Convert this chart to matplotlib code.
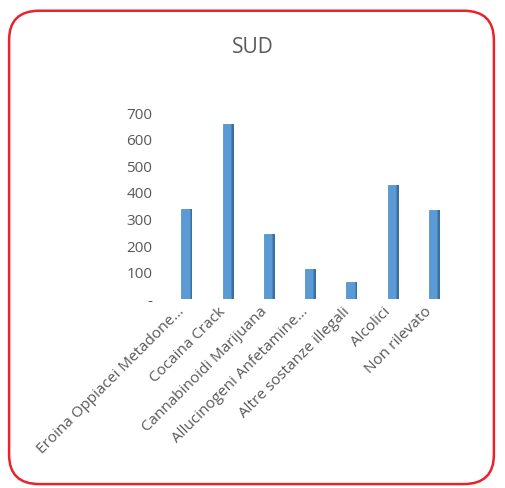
import matplotlib.pyplot as plt
from matplotlib.patches import FancyBboxPatch
from matplotlib.transforms import ScaledTranslation
import numpy as np

categorie = ['Eroina Oppiacei Metadone...', 'Cocaina Crack', 'Cannabinoidi Marijuana',
             'Allucinogeni Anfetamine...', 'Altre sostanze illegali', 'Alcolici', 'Non rilevato']
valori = [340, 660, 245, 113, 65, 430, 335]
yticks = [0, 100, 200, 300, 400, 500, 600, 700]
ytick_labels = ['-', '100', '200', '300', '400', '500', '600', '700']

plt.rcParams['font.family'] = ['Open Sans', 'DejaVu Sans']

fig = plt.figure(figsize=(5.05, 4.88), dpi=100)
ax = fig.add_axes([0.329, 0.387, 0.572, 0.381])

x = np.arange(len(categorie))
# faccia frontale + lato in ombra (effetto 3D)
ax.bar(x - 0.03, valori, width=0.2, color='#5B9BD5', edgecolor='#4A86BF', linewidth=0.5, zorder=3)
ax.bar(x + 0.1, valori, width=0.07, color='#3E6E9C', linewidth=0, zorder=2)

ax.set_xlim(-0.5, 6.5)
ax.set_ylim(0, 700)
ax.set_yticks(yticks)
ax.set_yticklabels(ytick_labels)
ax.set_xticks(x)
ax.set_xticklabels(categorie, rotation=45, ha='right', rotation_mode='anchor')
ax.tick_params(length=0, colors='#595959', labelsize=11)
ax.tick_params(axis='y', pad=10)
ax.tick_params(axis='x', pad=5)
sposta = ScaledTranslation(-0.1, 0.02, fig.dpi_scale_trans)
for lbl in ax.get_xticklabels():
    lbl.set_transform(lbl.get_transform() + sposta)
for s in ax.spines.values():
    s.set_visible(False)

fig.text(0.5, 0.903, 'SUD', ha='center', va='center', fontsize=15, color='#595959')

bordo = FancyBboxPatch((0.018, 0.008), 0.96, 0.97, boxstyle='round,pad=0,rounding_size=0.06',
                       transform=fig.transFigure, fill=False, edgecolor='#E8232B', linewidth=1.8)
fig.patches.append(bordo)

fig.savefig('out.png', dpi=100)
